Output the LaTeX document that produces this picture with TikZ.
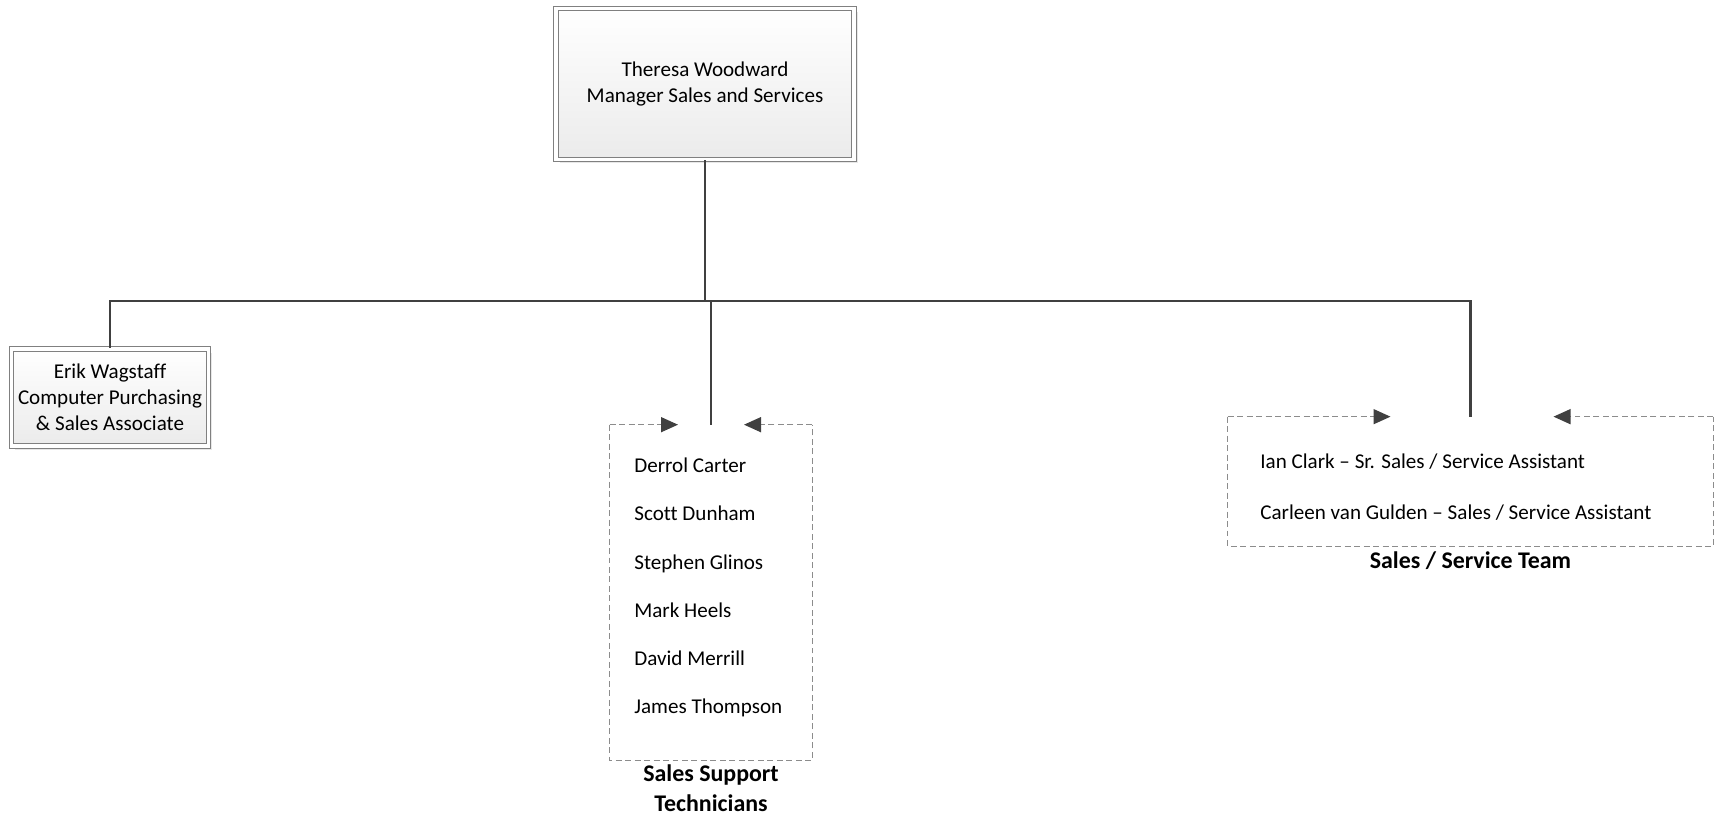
\documentclass[tikz,border=0pt]{standalone}
\usepackage{fontspec}
\setmainfont{Carlito}[Ligatures={TeX,NoCommon}]
\usepackage{tikz}
\usetikzlibrary{calc,positioning,shadows,arrows.meta}
\definecolor{linec}{HTML}{404040}
\definecolor{frame}{HTML}{808080}
\definecolor{dashc}{HTML}{8C8C8C}
\definecolor{fade}{HTML}{EBEBEB}
\tikzset{
  person/.style={draw=frame, double=white, line width=0.75pt, double distance=1.8pt,
    top color=white, bottom color=fade,
    drop shadow={shadow xshift=2.2pt, shadow yshift=-2.2pt, fill=black!18},
    align=center, font=\fontsize{12}{14.8}\selectfont, inner sep=0pt},
  wire/.style={draw=linec, line width=1.4pt},
  grp/.style={draw=dashc, line width=0.8pt, dash pattern=on 3.4pt off 2pt},
  grpbox/.style={rectangle, inner sep=0pt},
  tip/.style={-{Triangle[length=0.34cm, width=0.3cm, color=linec]}},
  names/.style={align=left, anchor=west, inner sep=0pt},
  grpcap/.style={font=\bfseries\fontsize{13.6}{16.6}\selectfont, align=center, inner sep=0pt},
}
\begin{document}
\begin{tikzpicture}[x=0.02cm, y=-0.02cm]
  \useasboundingbox[fill=white] (0,0) rectangle (1721,815);
  \node[person, minimum width=5.96cm, minimum height=3.02cm] (mgr) at (705,84)
    {Theresa Woodward\\Manager Sales and Services};
  \node[person, minimum width=3.94cm, minimum height=1.94cm] (erik) at (110,397.5)
    {Erik Wagstaff\\Computer Purchasing\\\& Sales Associate};
  \node[grpbox, minimum width=4.04cm, minimum height=6.7cm] (tech) at (711,592.5) {};
  \node[grpbox, minimum width=9.7cm, minimum height=2.58cm] (team) at (1470.5,481.5) {};
  \node[names, font=\fontsize{12}{27.4}\selectfont] (techlist) at (634,587.5)
    {Derrol Carter\\Scott Dunham\\Stephen Glinos\\Mark Heels\\David Merrill\\James Thompson};
  \node[names, font=\fontsize{12}{28.9}\selectfont] (teamlist) at (1260,487)
    {Ian Clark -- Sr. Sales / Service Assistant\\Carleen van Gulden -- Sales / Service Assistant};
  \node[grpcap, below=2.5pt of tech] (techcap) {Sales Support\\Technicians};
  \node[grpcap, below=3pt of team] (teamcap) {Sales / Service Team};
  \coordinate (bus) at (705,301);
  \draw[wire] (mgr.south) -- (bus) -| (erik.north);
  \draw[wire] (bus) -| (tech.north);
  \draw[wire] (bus) -| (team.north);
  \draw[grp] (tech.north west) -- (tech.south west) -- (tech.south east) -- (tech.north east);
  \draw[grp, tip] (tech.north west) -- ($(tech.north)+(-33,0)$);
  \draw[grp, tip] (tech.north east) -- ($(tech.north)+(33,0)$);
  \draw[grp] (team.north west) -- (team.south west) -- (team.south east) -- (team.north east);
  \draw[grp, tip] (team.north west) -- ($(team.north)+(-80,0)$);
  \draw[grp, tip] (team.north east) -- ($(team.north)+(83,0)$);
\end{tikzpicture}
\end{document}
